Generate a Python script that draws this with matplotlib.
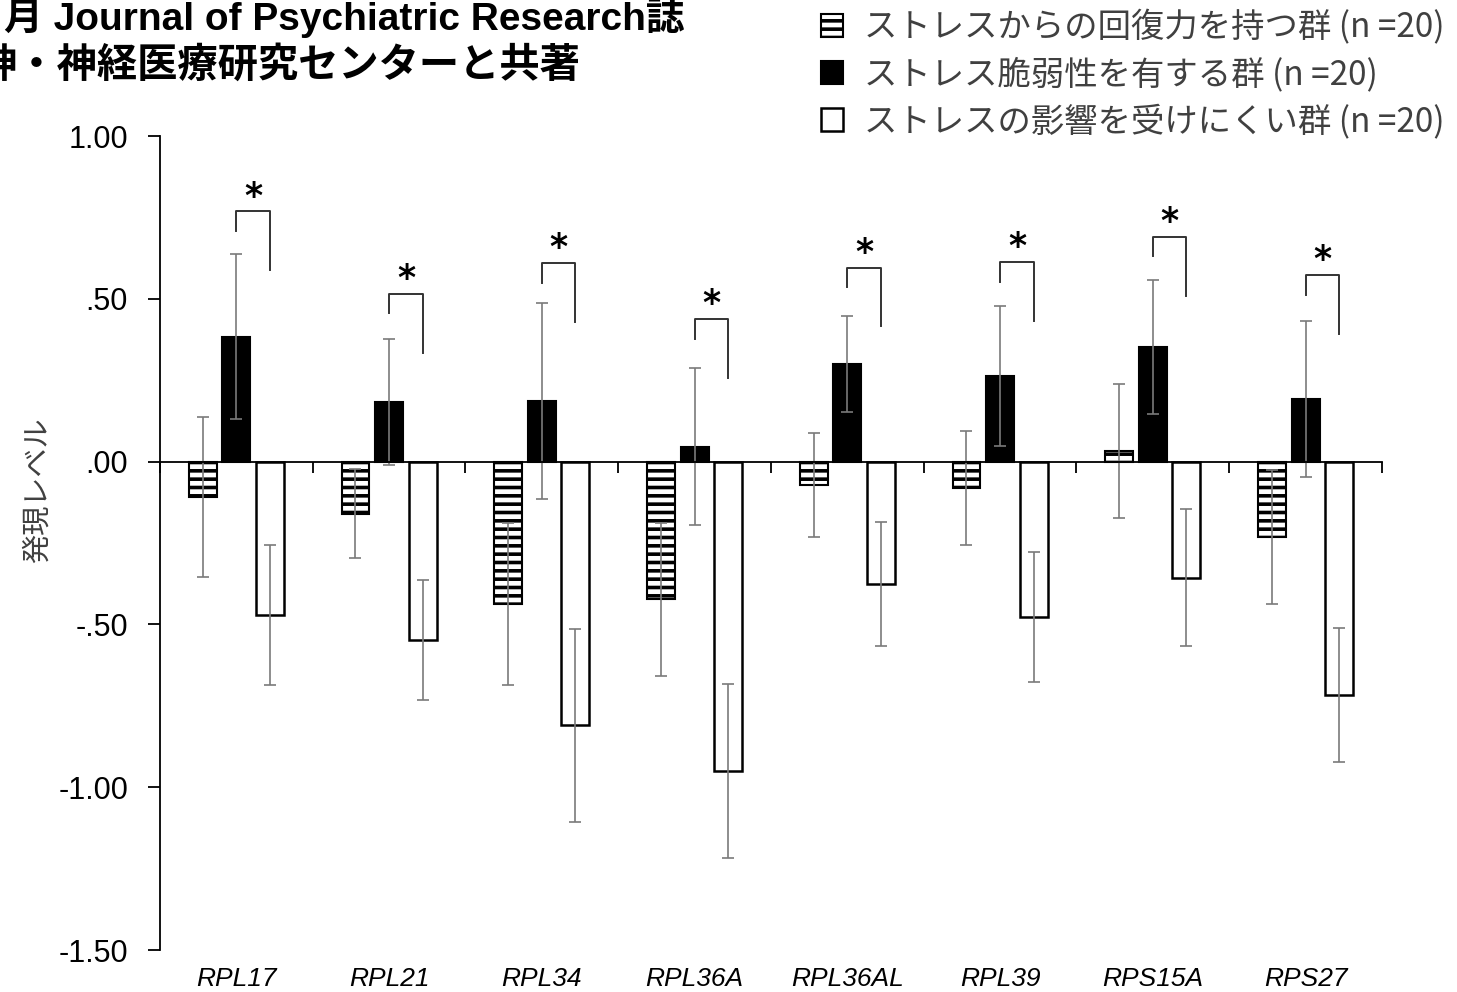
import numpy as np
import matplotlib
matplotlib.use("Agg")
import matplotlib.pyplot as plt

# gene names and group means / SD
genes = ["RPL17", "RPL21", "RPL34", "RPL36A", "RPL36AL", "RPL39", "RPS15A", "RPS27"]
resilient = [-0.108, -0.160, -0.437, -0.422, -0.072, -0.081, 0.033, -0.232]
resilient_err = [0.246, 0.136, 0.250, 0.235, 0.160, 0.176, 0.205, 0.205]
vulnerable = [0.384, 0.183, 0.186, 0.046, 0.300, 0.263, 0.352, 0.192]
vulnerable_err = [0.254, 0.194, 0.300, 0.240, 0.148, 0.215, 0.205, 0.240]
unaffected = [-0.471, -0.548, -0.810, -0.950, -0.376, -0.477, -0.357, -0.717]
unaffected_err = [0.215, 0.184, 0.297, 0.267, 0.190, 0.200, 0.210, 0.207]
bracket_top = [0.769, 0.515, 0.610, 0.438, 0.595, 0.613, 0.690, 0.573]

labels = ["ストレスからの回復力を持つ群 (n =20)",
          "ストレス脆弱性を有する群 (n =20)",
          "ストレスの影響を受けにくい群 (n =20)"]
yticks = [1.0, 0.5, 0.0, -0.5, -1.0, -1.5]
yticklabels = ["1.00", ".50", ".00", "-.50", "-1.00", "-1.50"]

plt.rcParams['hatch.linewidth'] = 2.6
jp = ['Noto Sans CJK JP', 'DejaVu Sans']
mixed = ['Liberation Sans', 'Noto Sans CJK JP']

fig = plt.figure(figsize=(14.57, 9.92), dpi=100)
ax = fig.add_axes([0.1098, 0.0423, 0.8387, 0.8206])

x = np.arange(len(genes))
w = 0.183
off = 0.22
ekw = dict(ecolor='#7a7a7a', elinewidth=1.2, capsize=4.5, capthick=1.2)

b1 = ax.bar(x - off, resilient, w, yerr=resilient_err, color='white', edgecolor='black',
            linewidth=1.5, hatch='--', error_kw=ekw, label=labels[0])
b2 = ax.bar(x, vulnerable, w, yerr=vulnerable_err, color='black', edgecolor='black',
            linewidth=1.5, error_kw=ekw, label=labels[1])
b3 = ax.bar(x + off, unaffected, w, yerr=unaffected_err, color='white', edgecolor='black',
            linewidth=1.8, error_kw=ekw, label=labels[2])

# significance brackets between vulnerable and unaffected
for i, top in enumerate(bracket_top):
    ax.plot([x[i], x[i], x[i] + off, x[i] + off],
            [top - 0.06, top, top, top - 0.18], color='#333333', lw=1.4)
    ax.text(x[i] + off / 2, top + 0.045, '*', ha='center', va='center',
            fontsize=25, fontweight='bold')

ax.set_xlim(-0.5, len(genes) - 0.5)
ax.set_ylim(-1.5, 1.0)

ax.spines['top'].set_visible(False)
ax.spines['right'].set_visible(False)
ax.spines['left'].set_linewidth(1.3)
ax.spines['bottom'].set_position(('data', 0))
ax.spines['bottom'].set_linewidth(1.3)

ax.set_xticks(np.arange(len(genes) + 1) - 0.5)
ax.tick_params(axis='x', direction='out', length=8, width=1.3, labelbottom=False)
ax.set_yticks(yticks)
ax.set_yticklabels(yticklabels, family='Liberation Sans', fontsize=22)
ax.tick_params(axis='y', direction='out', length=9, width=1.3, pad=14)

sec = ax.secondary_xaxis('bottom')
sec.spines['bottom'].set_visible(False)
sec.set_xticks(x)
sec.set_xticklabels(genes, family='Liberation Sans', style='italic', fontsize=19)
sec.tick_params(length=0, pad=12)

ax.set_ylabel('発現レベル', family=jp, fontsize=21, color='#404040')
ax.yaxis.set_label_coords(-0.088, 0.565)

fig.legend(handles=[b1, b2, b3], labels=labels, loc='upper left',
           bbox_to_anchor=(0.543, 1.02), frameon=False, handlelength=0.65,
           handleheight=0.65, handletextpad=0.65, labelspacing=0.36,
           prop={'family': jp, 'size': 24}, labelcolor='#404040')

fig.text(0.003, 0.982, '月 Journal of Psychiatric Research誌', family=mixed,
         fontweight='bold', fontsize=28, va='center', ha='left')
fig.text(-0.016, 0.934, '神・神経医療研究センターと共著', family=jp,
         fontweight='bold', fontsize=29, va='center', ha='left')

fig.savefig('out.png', dpi=100)
